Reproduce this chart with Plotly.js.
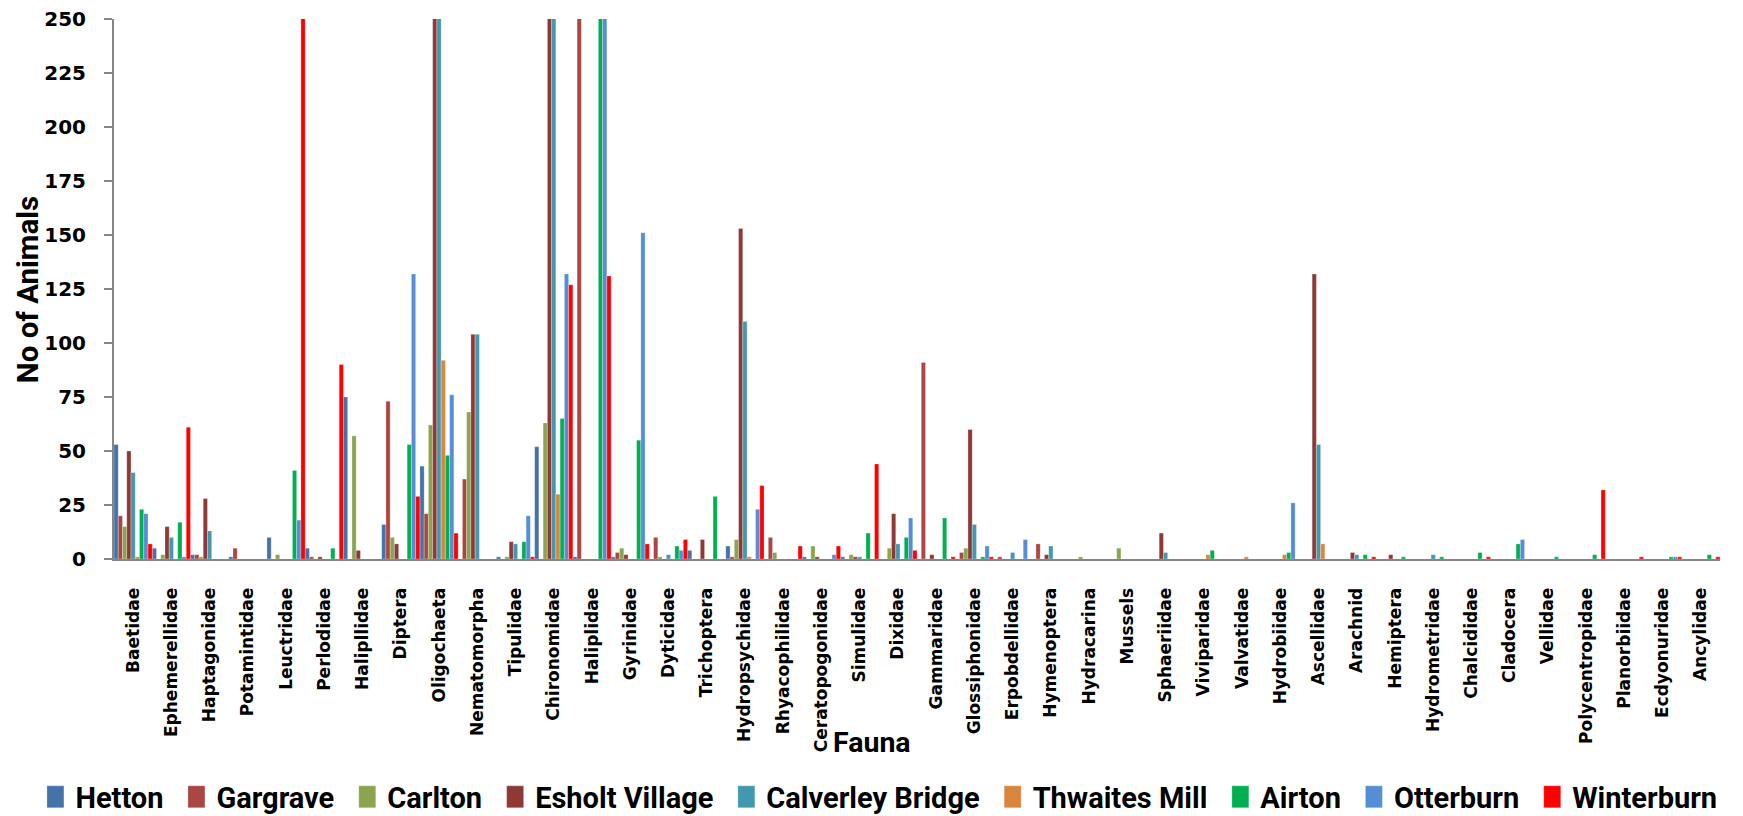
<!DOCTYPE html>
<html><head><meta charset="utf-8">
<script src="https://cdn.plot.ly/plotly-3.0.1.min.js"></script>
<style>html,body{margin:0;padding:0;background:#fff}#chart{width:1743px;height:816px}</style>
</head><body><div id="chart"></div>
<script>
const categories = ["Baetidae","Ephemerellidae","Haptagonidae","Potamintidae","Leuctridae","Perlodidae","Halipllidae","Diptera","Oligochaeta","Nematomorpha","Tipulidae","Chironomidae","Haliplidae","Gyrinidae","Dyticidae","Trichoptera","Hydropsychidae","Rhyacophilidae","Ceratopogonidae","Simulidae","Dixidae","Gammaridae","Glossiphonidae","Erpobdellidae","Hymenoptera","Hydracarina","Mussels","Sphaeriidae","Viviparidae","Valvatidae","Hydrobiidae","Ascellidae","Arachnid","Hemiptera","Hydrometridae","Chalcididae","Cladocera","Vellidae","Polycentropidae","Planorbiidae","Ecdyonuridae","Ancylidae"];

const hetton     = [53,5,2,1,10,5,75,16,43,0,1,52,1,1,0,4,6,0,1,1,0,0,0,0,0,0,0,0,0,0,0,0,0,0,0,0,0,0,0,0,0,0];
const gargrave   = [20,0,2,5,0,1,0,73,21,37,0,0,260,3,10,0,1,10,0,0,0,91,3,1,7,0,0,0,0,0,0,0,0,0,0,0,0,0,0,0,0,0];
const carlton    = [15,2,1,0,2,0,57,10,62,68,1,63,0,5,1,0,9,3,6,2,5,0,5,0,0,1,5,0,0,0,0,0,0,0,0,0,0,0,0,0,0,0];
const esholt     = [50,15,28,0,0,1,4,7,520,104,8,640,0,2,0,9,153,0,1,1,21,2,60,0,2,0,0,12,0,0,0,132,3,2,0,0,0,0,0,0,0,0];
const calverley  = [40,10,13,0,0,0,0,0,310,104,7,470,0,0,2,0,110,0,0,1,7,0,16,3,6,0,0,3,0,0,0,53,2,0,2,0,0,0,0,0,0,0];
const thwaites   = [1,0,0,0,0,0,0,0,92,0,0,30,0,0,0,0,1,0,0,0,0,0,0,0,0,0,0,0,2,1,2,7,0,0,0,0,0,0,0,0,0,0];
const airton     = [23,17,0,0,41,5,0,53,48,0,8,65,350,55,6,29,0,0,0,12,10,19,1,0,0,0,0,0,4,0,3,0,2,1,1,3,7,1,2,0,1,2];
const otterburn  = [21,1,0,0,18,0,0,132,76,0,20,132,300,151,4,0,23,0,2,0,19,0,6,9,0,0,0,0,0,0,26,0,0,0,0,0,9,0,0,0,1,0];
const winterburn = [7,61,0,0,280,90,0,29,12,0,1,127,131,7,9,0,34,6,6,44,4,1,1,0,0,0,0,0,0,0,0,0,1,0,0,1,0,0,32,1,1,1];

const seriesNames  = ["Hetton","Gargrave","Carlton","Esholt Village","Calverley Bridge","Thwaites Mill","Airton","Otterburn","Winterburn"];
const seriesValues = [hetton,gargrave,carlton,esholt,calverley,thwaites,airton,otterburn,winterburn];
const seriesColors = ["#4572A7","#AA4643","#89A54E","#8E3936","#4198AF","#DB843D","#00B050","#558ED5","#FF0000"];

function hasFont(name){
  const c = document.createElement('canvas').getContext('2d');
  const s = 'Calverley Bridge Wmi 250';
  c.font = 'bold 40px monospace'; const a = c.measureText(s).width;
  c.font = 'bold 40px "' + name + '", monospace'; const b = c.measureText(s).width;
  return Math.abs(a - b) > 0.5;
}
const haveRoboto = hasFont('Roboto');
const F = 'DejaVu Sans, Verdana, sans-serif';
const N = haveRoboto ? 'Roboto, DejaVu Sans, sans-serif' : F;
const legendSize = haveRoboto ? 29 : 22;
const ytitleSize = haveRoboto ? 29.5 : 23.5;
const faunaSize  = haveRoboto ? 28.5 : 22.5;

const traces = seriesNames.map((n,i)=>({
  type:'bar', name:n, x:categories, y:seriesValues[i],
  marker:{color:seriesColors[i], line:{width:0.5, color:'rgba(255,255,255,0.55)'}},
  hoverinfo:'x+y+name'
}));

const layout = {
  width:1743, height:816,
  margin:{l:114, r:23, t:19, b:257, autoexpand:false},
  paper_bgcolor:'#fff', plot_bgcolor:'#fff',
  barmode:'group', bargap:0, bargroupgap:0,
  font:{family:F, color:'#000'},
  showlegend:true,
  xaxis:{
    type:'category', tickangle:-90, automargin:false,
    tickfont:{family:F, size:17, weight:'bold', color:'#000'},
    showline:true, linecolor:'#868686', linewidth:2,
    ticks:'', ticklabelstandoff:20, showgrid:false, zeroline:false
  },
  yaxis:{
    range:[0,250], tick0:0, dtick:25, automargin:false,
    ticks:'outside', ticklen:8, tickwidth:2, tickcolor:'#868686',
    showline:true, linecolor:'#868686', linewidth:2,
    showgrid:false, zeroline:false,
    tickfont:{family:F, size:20, weight:'bold', color:'#000'},
    ticklabelstandoff:14
  },
  legend:{
    orientation:'h', xref:'paper', yref:'paper',
    x:-0.0539, y:-0.4407, xanchor:'left', yanchor:'middle',
    itemwidth:38,
    font:{family:N, size:legendSize, weight:'bold', color:'#000'},
    traceorder:'normal', itemclick:false, itemdoubleclick:false
  },
  annotations:[
    {
      text:'No of Animals', xref:'paper', yref:'paper', x:-0.0535, y:0.498,
      xanchor:'center', yanchor:'middle', textangle:-90, showarrow:false,
      font:{family:N, size:ytitleSize, weight:'bold', color:'#000'}
    },
    {
      text:'Fauna', xref:'paper', yref:'paper', x:0.472, y:-0.339,
      xanchor:'center', yanchor:'middle', showarrow:false,
      font:{family:N, size:faunaSize, weight:'bold', color:'#000'}
    }
  ]
};

Plotly.newPlot('chart', traces, layout, {displayModeBar:false, staticPlot:true}).then(function(){
  document.querySelectorAll('.legend .legendpoints path').forEach(function(p){
    p.setAttribute('d','M12.5,11H-4.5V-11H12.5Z');
  });
});
</script>
</body></html>
